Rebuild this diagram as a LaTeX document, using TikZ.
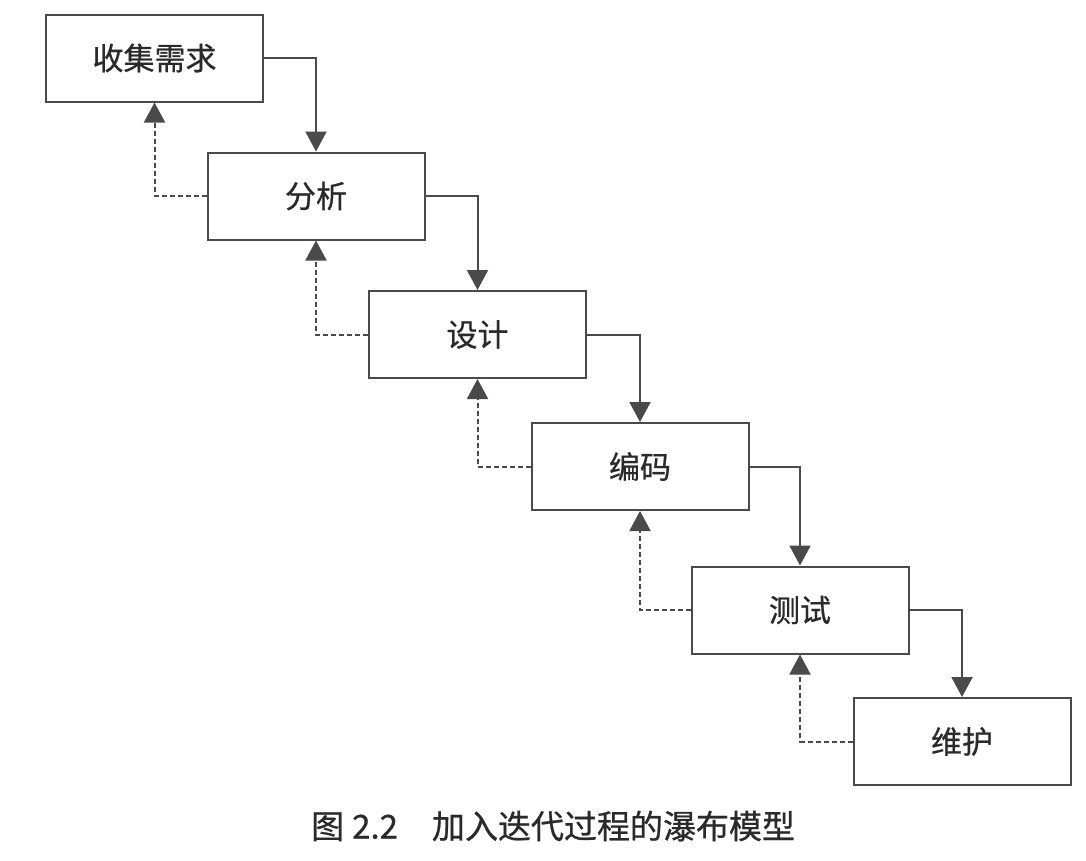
\documentclass[tikz,border=0pt]{standalone}
\usepackage{fontspec}
\newfontfamily\cjk[FakeBold=0.7]{Noto Sans CJK SC}
\usetikzlibrary{arrows.meta}
\definecolor{ink}{HTML}{4A4A4A}
\definecolor{txt}{HTML}{2A2A2A}
\tikzset{
  stage/.style={draw=ink, line width=2pt, minimum width=217pt, minimum height=87pt,
    inner sep=0pt, text=txt, font=\cjk\fontsize{31}{33}\selectfont},
  flow/.style={draw=ink, line width=2pt, -{Triangle[width=21pt,length=20pt,fill=ink]}},
  back/.style={draw=ink, line width=2pt, dash pattern=on 5pt off 3pt,
    -{Triangle[width=21pt,length=20pt,fill=ink]}},
}
\begin{document}
\begin{tikzpicture}[x=1pt,y=-1pt]
\useasboundingbox (0,0) rectangle (1086,860);
\fill[white] (0,0) rectangle (1086,860);
\node[stage] (b1) at (154.5,58) {收集需求};
\node[stage] (b2) at (316,196) {分析};
\node[stage] (b3) at (477.5,334.5) {设计};
\node[stage] (b4) at (640,466.5) {编码};
\node[stage] (b5) at (800,610) {测试};
\node[stage] (b6) at (962,741.5) {维护};
\draw[flow] (b1.east) -| (b2.north);
\draw[flow] (b2.east) -| (b3.north);
\draw[flow] (b3.east) -| (b4.north);
\draw[flow] (b4.east) -| (b5.north);
\draw[flow] (b5.east) -| (b6.north);
\draw[back] (b2.west) -| (b1.south);
\draw[back] (b3.west) -| (b2.south);
\draw[back] (b4.west) -| (b3.south);
\draw[back] (b5.west) -| (b4.south);
\draw[back] (b6.west) -| (b5.south);
\node[anchor=west, text=txt, font=\cjk\fontsize{33}{35}\selectfont, inner sep=0pt] (cap) at (311,826) {图\hspace{8pt}2.2\hspace{34pt}加入迭代过程的瀑布模型};
\end{tikzpicture}
\end{document}
